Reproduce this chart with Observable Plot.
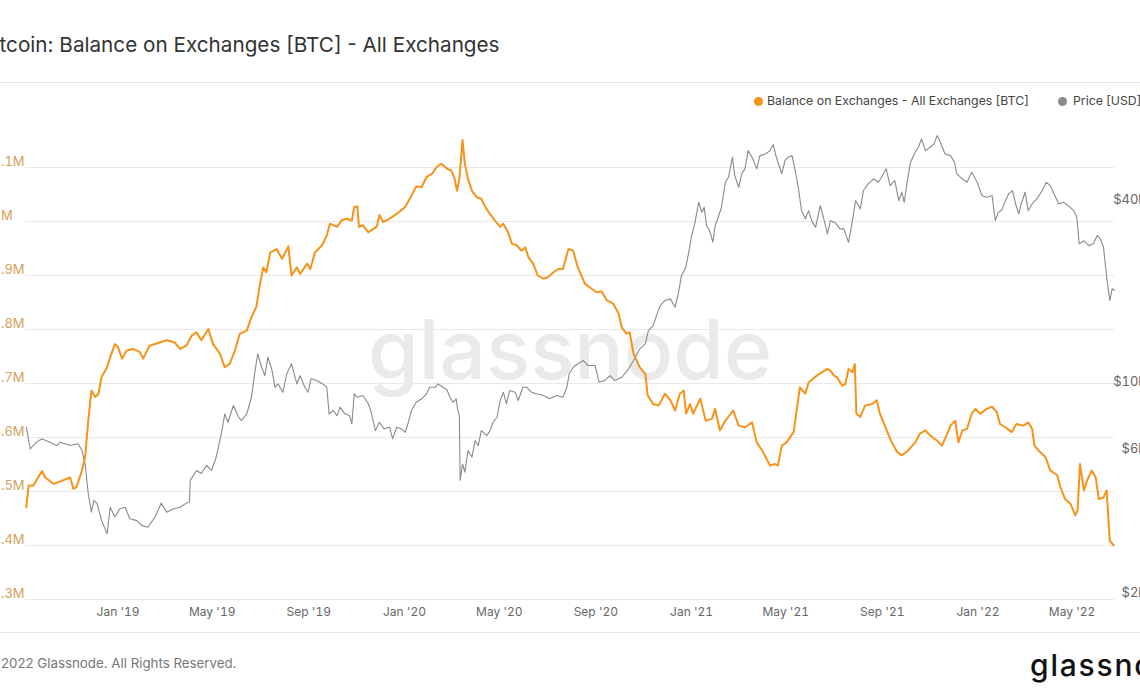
<!DOCTYPE html>
<html><head><meta charset="utf-8">
<script src="https://cdn.jsdelivr.net/npm/d3@7"></script>
<script src="https://cdn.jsdelivr.net/npm/@observablehq/plot@0.6"></script>
<style>
body{margin:0;background:#fff;font-family:Inter,"Noto Sans",sans-serif;}
#wrap{position:relative;width:1140px;height:694px;overflow:hidden;background:#fff;}
.abs{position:absolute;white-space:nowrap;line-height:1;}
.layer{position:absolute;left:-20px;top:110px;width:1180px;height:520px;}
.dot{position:absolute;width:9px;height:9px;border-radius:50%;}
</style></head><body>
<div id="wrap">
  <div class="abs" style="left:-19px;top:35px;font-size:20.7px;color:#333;">Bitcoin: Balance on Exchanges [BTC] - All Exchanges</div>
  <div style="position:absolute;left:0;top:82px;width:1140px;height:1px;background:#e8e8e8"></div>
  <div id="l1" class="layer"></div>
  <div id="l2" class="layer"></div>
  <div id="l3" class="layer"></div>
  <div class="dot" style="left:754px;top:97px;background:#f7931a"></div>
  <div class="abs" style="left:767px;top:95px;font-size:12.3px;color:#444;">Balance on Exchanges - All Exchanges [BTC]</div>
  <div class="dot" style="left:1058px;top:97px;background:#8a8a8a"></div>
  <div class="abs" style="left:1073px;top:95px;font-size:12.3px;color:#444;">Price [USD]</div>
  <div style="position:absolute;left:0;top:632px;width:1140px;height:1px;background:#e8e8e8"></div>
  <div class="abs" style="left:-15px;top:657px;font-size:13.3px;color:#777;">© 2022 Glassnode. All Rights Reserved.</div>
  <div class="abs" style="left:1030px;top:650px;font-size:30px;font-weight:500;color:#111;letter-spacing:1.8px;">glassnode</div>
</div>
<script>
// ---- data ----
const btcTicks = [2.3, 2.4, 2.5, 2.6, 2.7, 2.8, 2.9, 3.0, 3.1]; // million BTC
const priceTicks = [2000, 6000, 10000, 40000]; // USD
const xTicks = ["2019-01-01","2019-05-01","2019-09-01","2020-01-01","2020-05-01","2020-09-01","2021-01-01","2021-05-01","2021-09-01","2022-01-01","2022-05-01"];
const xRange = ["2018-09-05","2022-06-24"];

// Balance on exchanges, million BTC
const btcSeries = [
["2018-09-06",2.471],["2018-09-09",2.511],["2018-09-15",2.511],["2018-09-26",2.538],["2018-09-30",2.526],["2018-10-11",2.514],["2018-11-01",2.526],["2018-11-05",2.505],["2018-11-09",2.508],["2018-11-16",2.539],["2018-11-20",2.564],["2018-11-24",2.631],["2018-11-28",2.687],["2018-12-03",2.675],["2018-12-07",2.681],["2018-12-11",2.712],["2018-12-18",2.730],["2018-12-22",2.749],["2018-12-28",2.773],
["2019-01-01",2.767],["2019-01-06",2.746],["2019-01-12",2.761],["2019-01-20",2.764],["2019-01-29",2.758],["2019-02-02",2.746],["2019-02-10",2.770],["2019-02-23",2.776],["2019-03-04",2.780],["2019-03-14",2.776],["2019-03-21",2.764],["2019-03-29",2.770],["2019-04-05",2.789],["2019-04-11",2.795],["2019-04-17",2.780],["2019-04-26",2.801],["2019-05-02",2.773],["2019-05-11",2.755],["2019-05-17",2.730],["2019-05-23",2.736],["2019-05-30",2.761],["2019-06-05",2.792],["2019-06-14",2.798],["2019-06-20",2.823],["2019-06-26",2.841],["2019-07-01",2.885],["2019-07-05",2.915],["2019-07-09",2.906],["2019-07-14",2.943],["2019-07-22",2.949],["2019-07-29",2.931],["2019-08-06",2.954],["2019-08-10",2.900],["2019-08-17",2.915],["2019-08-21",2.903],["2019-08-30",2.922],["2019-09-03",2.912],["2019-09-09",2.943],["2019-09-18",2.956],["2019-09-24",2.974],["2019-09-28",2.996],["2019-10-07",2.990],["2019-10-13",3.002],["2019-10-19",3.005],["2019-10-26",3.002],["2019-10-29",3.027],["2019-11-02",3.028],["2019-11-04",2.990],["2019-11-09",2.993],["2019-11-16",2.980],["2019-11-22",2.986],["2019-11-27",2.991],["2019-11-30",3.012],["2019-12-05",2.999],["2019-12-13",3.005],["2019-12-22",3.014],
["2020-01-02",3.027],["2020-01-10",3.048],["2020-01-16",3.065],["2020-01-23",3.064],["2020-01-29",3.082],["2020-02-05",3.088],["2020-02-11",3.101],["2020-02-17",3.107],["2020-02-24",3.098],["2020-03-01",3.094],["2020-03-05",3.079],["2020-03-08",3.057],["2020-03-11",3.079],["2020-03-15",3.151],["2020-03-18",3.107],["2020-03-22",3.079],["2020-03-27",3.057],["2020-04-02",3.045],["2020-04-08",3.042],["2020-04-13",3.027],["2020-04-19",3.014],["2020-04-25",3.002],["2020-05-02",2.990],["2020-05-06",2.996],["2020-05-12",2.980],["2020-05-17",2.959],["2020-05-23",2.956],["2020-05-29",2.946],["2020-06-03",2.952],["2020-06-07",2.934],["2020-06-13",2.922],["2020-06-19",2.900],["2020-06-26",2.894],["2020-07-02",2.897],["2020-07-09",2.906],["2020-07-15",2.912],["2020-07-21",2.912],["2020-07-28",2.949],["2020-08-03",2.946],["2020-08-09",2.915],["2020-08-18",2.885],["2020-08-27",2.875],["2020-09-02",2.869],["2020-09-08",2.871],["2020-09-15",2.854],["2020-09-23",2.848],["2020-09-30",2.829],["2020-10-04",2.804],["2020-10-10",2.792],["2020-10-14",2.795],["2020-10-19",2.755],["2020-10-27",2.730],["2020-11-03",2.718],["2020-11-06",2.678],["2020-11-13",2.662],["2020-11-20",2.659],["2020-11-28",2.681],["2020-12-05",2.669],["2020-12-11",2.650],["2020-12-17",2.681],["2020-12-22",2.687],["2020-12-25",2.644],["2020-12-30",2.662],
["2021-01-03",2.644],["2021-01-12",2.672],["2021-01-19",2.631],["2021-01-27",2.635],["2021-01-31",2.653],["2021-02-06",2.613],["2021-02-13",2.631],["2021-02-23",2.650],["2021-03-02",2.622],["2021-03-10",2.619],["2021-03-19",2.628],["2021-03-25",2.591],["2021-04-02",2.573],["2021-04-11",2.548],["2021-04-17",2.551],["2021-04-21",2.548],["2021-04-26",2.585],["2021-05-02",2.591],["2021-05-11",2.610],["2021-05-19",2.693],["2021-05-26",2.681],["2021-05-30",2.702],["2021-06-10",2.715],["2021-06-23",2.727],["2021-06-27",2.724],["2021-07-01",2.715],["2021-07-05",2.712],["2021-07-12",2.696],["2021-07-16",2.699],["2021-07-20",2.727],["2021-07-25",2.721],["2021-07-28",2.736],["2021-07-30",2.644],["2021-08-04",2.638],["2021-08-10",2.659],["2021-08-19",2.662],["2021-08-25",2.669],["2021-08-29",2.644],["2021-09-05",2.619],["2021-09-13",2.591],["2021-09-20",2.573],["2021-09-26",2.567],["2021-10-04",2.576],["2021-10-13",2.591],["2021-10-19",2.607],["2021-10-26",2.613],["2021-11-01",2.604],["2021-11-10",2.594],["2021-11-16",2.585],["2021-11-22",2.604],["2021-11-27",2.622],["2021-12-03",2.631],["2021-12-07",2.591],["2021-12-12",2.613],["2021-12-18",2.616],["2021-12-24",2.644],["2021-12-29",2.653],
["2022-01-04",2.644],["2022-01-12",2.653],["2022-01-19",2.657],["2022-01-25",2.647],["2022-01-29",2.625],["2022-02-05",2.619],["2022-02-13",2.610],["2022-02-19",2.625],["2022-02-28",2.622],["2022-03-06",2.628],["2022-03-11",2.616],["2022-03-14",2.585],["2022-03-21",2.573],["2022-03-28",2.564],["2022-04-03",2.539],["2022-04-12",2.530],["2022-04-16",2.508],["2022-04-22",2.486],["2022-04-29",2.477],["2022-05-05",2.456],["2022-05-08",2.465],["2022-05-11",2.551],["2022-05-16",2.502],["2022-05-20",2.520],["2022-05-26",2.539],["2022-05-31",2.526],["2022-06-04",2.486],["2022-06-10",2.489],["2022-06-14",2.502],["2022-06-18",2.409],["2022-06-23",2.400]
];

// BTC price, USD
const priceSeries = [
["2018-09-06",7440],["2018-09-11",6310],["2018-09-19",6640],["2018-09-26",6810],["2018-10-06",6640],["2018-10-15",6470],["2018-10-19",6640],["2018-11-01",6470],["2018-11-11",6560],["2018-11-16",6230],["2018-11-20",5620],["2018-11-24",4480],["2018-11-28",3890],["2018-12-01",4260],["2018-12-05",4170],["2018-12-11",3650],["2018-12-18",3300],["2018-12-22",4040],["2018-12-28",3750],
["2019-01-03",3990],["2019-01-10",4040],["2019-01-16",3700],["2019-01-25",3650],["2019-01-31",3520],["2019-02-08",3470],["2019-02-17",3750],["2019-02-25",4170],["2019-03-04",3890],["2019-03-12",3990],["2019-03-21",4040],["2019-03-29",4170],["2019-04-02",4210],["2019-04-03",4960],["2019-04-11",5350],["2019-04-17",5230],["2019-04-24",5560],["2019-04-30",5350],["2019-05-06",5920],["2019-05-13",7160],["2019-05-17",8240],["2019-05-21",7730],["2019-05-28",8780],["2019-06-03",8090],["2019-06-07",7830],["2019-06-14",8240],["2019-06-20",9350],["2019-06-24",11180],["2019-06-28",13020],["2019-07-03",11750],["2019-07-07",11030],["2019-07-11",12690],["2019-07-16",11540],["2019-07-20",10090],["2019-07-24",10350],["2019-07-30",9720],["2019-08-04",11180],["2019-08-10",12070],["2019-08-17",10350],["2019-08-21",11030],["2019-08-27",10090],["2019-08-31",9720],["2019-09-04",10760],["2019-09-11",10620],["2019-09-19",10350],["2019-09-24",10090],["2019-09-27",8240],["2019-10-02",8450],["2019-10-07",8130],["2019-10-11",8670],["2019-10-17",8240],["2019-10-23",8130],["2019-10-26",7640],["2019-10-29",9600],["2019-11-02",9350],["2019-11-09",9480],["2019-11-16",8890],["2019-11-19",8450],["2019-11-25",7250],["2019-11-30",7730],["2019-12-06",7350],["2019-12-13",7440],["2019-12-17",6810],["2019-12-22",7440],["2019-12-28",7350],
["2020-01-02",7160],["2020-01-06",7730],["2020-01-10",8450],["2020-01-16",9000],["2020-01-23",9240],["2020-01-29",9600],["2020-02-02",10090],["2020-02-09",10090],["2020-02-13",10350],["2020-02-19",10090],["2020-02-24",9920],["2020-02-28",9350],["2020-03-03",9000],["2020-03-07",9240],["2020-03-09",8450],["2020-03-11",8130],["2020-03-12",4960],["2020-03-15",5620],["2020-03-18",5280],["2020-03-22",6230],["2020-03-27",5920],["2020-03-31",6720],["2020-04-04",6470],["2020-04-08",7250],["2020-04-15",6980],["2020-04-19",7250],["2020-04-23",7730],["2020-04-28",8030],["2020-05-02",9120],["2020-05-06",9720],["2020-05-10",8890],["2020-05-14",9840],["2020-05-21",9720],["2020-05-25",9120],["2020-05-31",10090],["2020-06-05",10090],["2020-06-11",9720],["2020-06-17",9600],["2020-06-26",9480],["2020-07-04",9240],["2020-07-13",9480],["2020-07-21",9350],["2020-07-26",10090],["2020-07-29",11180],["2020-08-03",11750],["2020-08-09",12070],["2020-08-16",12370],["2020-08-22",11910],["2020-08-31",11910],["2020-09-05",10490],["2020-09-12",10620],["2020-09-19",11030],["2020-09-25",10620],["2020-10-04",10890],["2020-10-12",11540],["2020-10-19",12370],["2020-10-27",13520],["2020-11-03",14050],["2020-11-07",15560],["2020-11-13",16150],["2020-11-18",17660],["2020-11-22",18820],["2020-11-28",19550],["2020-12-05",19800],["2020-12-11",18580],["2020-12-15",20570],["2020-12-19",23650],["2020-12-24",24900],["2020-12-28",27910],
["2021-01-01",32080],["2021-01-05",35080],["2021-01-10",41360],["2021-01-14",38330],["2021-01-17",39800],["2021-01-20",34600],["2021-01-24",33330],["2021-01-28",30500],["2021-01-31",34600],["2021-02-04",36900],["2021-02-08",39820],["2021-02-13",48180],["2021-02-17",50040],["2021-02-22",58290],["2021-02-25",50700],["2021-03-02",46380],["2021-03-06",51400],["2021-03-10",53370],["2021-03-14",61350],["2021-03-19",58290],["2021-03-25",53370],["2021-03-29",59040],["2021-04-05",59800],["2021-04-11",61350],["2021-04-15",64210],["2021-04-19",58290],["2021-04-26",51400],["2021-04-30",56840],["2021-05-04",58290],["2021-05-09",59040],["2021-05-13",52660],["2021-05-17",46380],["2021-05-21",38820],["2021-05-26",36460],["2021-05-30",38820],["2021-06-03",35960],["2021-06-08",34180],["2021-06-14",40330],["2021-06-18",36900],["2021-06-23",32510],["2021-06-27",35960],["2021-07-03",35400],["2021-07-09",33760],["2021-07-14",33760],["2021-07-20",30480],["2021-07-25",35960],["2021-07-29",41900],["2021-08-04",39340],["2021-08-08",45230],["2021-08-14",47600],["2021-08-21",49440],["2021-08-27",48180],["2021-08-31",50040],["2021-09-06",53370],["2021-09-11",46980],["2021-09-17",48760],["2021-09-22",41900],["2021-09-26",44640],["2021-09-29",41360],["2021-10-03",48760],["2021-10-07",56100],["2021-10-13",60560],["2021-10-17",62920],["2021-10-21",67090],["2021-10-26",61350],["2021-11-01",62920],["2021-11-06",64560],["2021-11-10",68780],["2021-11-14",65350],["2021-11-20",59800],["2021-11-27",59040],["2021-12-02",56100],["2021-12-05",51400],["2021-12-12",49440],["2021-12-18",48180],["2021-12-24",52000],["2021-12-31",48180],
["2022-01-06",43540],["2022-01-12",42960],["2022-01-19",43540],["2022-01-23",35960],["2022-01-27",38330],["2022-01-31",38820],["2022-02-05",41900],["2022-02-09",44090],["2022-02-14",45230],["2022-02-18",40830],["2022-02-22",37850],["2022-02-25",40830],["2022-03-02",44640],["2022-03-06",38820],["2022-03-11",40830],["2022-03-17",42440],["2022-03-24",45230],["2022-03-29",48180],["2022-04-03",46980],["2022-04-08",44090],["2022-04-14",40830],["2022-04-20",41360],["2022-04-26",40330],["2022-05-03",38820],["2022-05-07",36900],["2022-05-10",30130],["2022-05-16",30880],["2022-05-22",29720],["2022-05-28",30130],["2022-06-02",32080],["2022-06-06",31250],["2022-06-10",29360],["2022-06-14",23340],["2022-06-18",19550],["2022-06-21",21380],["2022-06-24",21150]
];

// ---- chart ----
const btc = btcSeries.map(([d, v]) => ({date: new Date(d), value: v}));
const price = priceSeries.map(([d, v]) => ({date: new Date(d), value: v}));
const xDomain = xRange.map(d => new Date(d));
const xTickDates = xTicks.map(d => new Date(d));

const common = {
  width: 1180, height: 520,
  marginLeft: 45, marginRight: 46, marginTop: 3, marginBottom: 31,
};
const baseStyle = {background: "transparent", maxWidth: "none", overflow: "visible", fontFamily: "Inter, 'Noto Sans', sans-serif"};

const base = Plot.plot({
  ...common,
  style: {...baseStyle, background: "#fff"},
  x: {type: "utc", domain: xDomain, axis: null},
  y: {domain: [2.3, 3.2], axis: null},
  marks: [
    Plot.text(["glassnode"], {text: d => d, frameAnchor: "middle", fontSize: 82, fontWeight: 500, fill: "#eaeaea", dy: -4}),
    Plot.gridY(btcTicks, {stroke: "#e9e9e9", strokeOpacity: 1}),
    Plot.axisY(btcTicks, {anchor: "left", tickSize: 0, tickPadding: 33, textAnchor: "start", tickFormat: d => d + "M", color: "#d6a15e", fontSize: 13, dy: -6, label: null}),
    Plot.axisX(xTickDates, {anchor: "bottom", tickSize: 0, tickPadding: 8, tickFormat: d3.utcFormat("%b '%y"), color: "#666", fontSize: 12, label: null})
  ]
});

const pricePlot = Plot.plot({
  ...common,
  style: baseStyle,
  x: {type: "utc", domain: xDomain, axis: null},
  y: {type: "log", domain: [2000, 81400]},
  marks: [
    Plot.lineY(price, {x: "date", y: "value", stroke: "#8a8a8a", strokeWidth: 1.1}),
    Plot.axisY(priceTicks, {anchor: "right", tickSize: 0, tickPadding: 31, textAnchor: "end", tickFormat: d => "$" + (d / 1000) + "k", color: "#666", fontSize: 13, dy: -7, label: null})
  ]
});

const btcPlot = Plot.plot({
  ...common,
  style: baseStyle,
  x: {type: "utc", domain: xDomain, axis: null},
  y: {domain: [2.3, 3.2], axis: null},
  marks: [
    Plot.lineY(btc, {x: "date", y: "value", stroke: "#f7931a", strokeWidth: 2})
  ]
});

document.getElementById("l1").append(base);
document.getElementById("l2").append(pricePlot);
document.getElementById("l3").append(btcPlot);
</script>
</body></html>
